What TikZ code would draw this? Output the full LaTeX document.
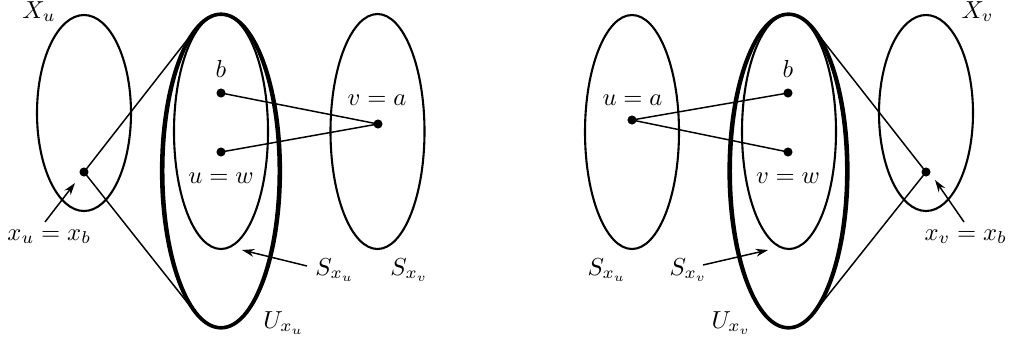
\documentclass[tikz,border=0pt]{standalone}
\usetikzlibrary{shapes.geometric,arrows.meta}
\begin{document}
\begin{tikzpicture}[x=0.4065pt,y=-0.4065pt,
 ell/.style 2 args={ellipse, draw, line width=0.85pt, inner sep=0pt, outer sep=0pt,
   minimum width=#1*0.4065pt, minimum height=#2*0.4065pt},
 dot/.style={circle, fill, inner sep=0pt, minimum size=3.7pt},
 lbl/.style={inner sep=0pt, anchor=base},
 lblw/.style={inner sep=0pt, anchor=base west},
 conn/.style={line width=0.6pt},
 pointer/.style={line width=0.6pt, -{Stealth[length=5pt,width=3.2pt]}}]
\useasboundingbox (0,0) rectangle (1009,343);

% ---------- left panel ----------
\node[ell={94}{196}] (Xu) at (84,113) {};
\node[ell={94}{235}] (Sxu) at (221,131.5) {};
\node[ell={115}{312}, line width=0.8pt] (Uxub) at (221,171) {};
\node[ell={119}{314}, line width=1.3pt] (Uxu) at (221,171) {};
\node[ell={94}{235}] (Sxv) at (377.5,131.5) {};

\node[dot] (xu) at (84,172) {};
\node[dot] (b1) at (221,93) {};
\node[dot] (w1) at (221,152) {};
\node[dot] (a1) at (378,124) {};

\draw[conn] (b1.center) -- (a1.center);
\draw[conn] (w1.center) -- (a1.center);
\draw[conn] (xu.center) -- (Uxu.100.4);
\draw[conn] (xu.center) -- (Uxu.-100.4);

\node[lblw] (LXu) at (22,18) {$X_u$};
\node[lblw] (Lxu) at (7,240) {$x_u=x_b$};
\node[lbl] (Lb1) at (221,77) {$b$};
\node[lbl] (Lw1) at (221,183) {$u=w$};
\node[lbl] (La1) at (377,105) {$v=a$};
\node[lblw] (LSxu) at (315,275) {$S_{x_u}$};
\node[lblw] (LSxv) at (390,275) {$S_{x_v}$};
\node[lblw] (LUxu) at (263,328) {$U_{x_u}$};

\coordinate (p1s) at (45,222);
\coordinate (p1e) at (75,183);
\draw[pointer] (p1s) -- (p1e);
\coordinate (p2s) at (307,266);
\coordinate (p2e) at (242,250);
\draw[pointer] (p2s) -- (p2e);

% ---------- right panel ----------
\node[ell={94}{234}] (Sxu2) at (632,132) {};
\node[ell={94}{235}] (Sxv2) at (789,131.5) {};
\node[ell={115}{312}, line width=0.8pt] (Uxvb) at (788.5,171) {};
\node[ell={119}{314}, line width=1.3pt] (Uxv) at (788.5,171) {};
\node[ell={94}{196}] (Xv) at (926,113) {};

\node[dot] (a2) at (632,120) {};
\node[dot] (b2) at (788,93) {};
\node[dot] (w2) at (788,152) {};
\node[dot] (xv) at (926,172) {};

\draw[conn] (a2.center) -- (b2.center);
\draw[conn] (a2.center) -- (w2.center);
\draw[conn] (xv.center) -- (Uxv.79.6);
\draw[conn] (xv.center) -- (Uxv.-79.6);

\node[lblw] (LXv) at (961,18) {$X_v$};
\node[lblw] (Lxv) at (924,240) {$x_v=x_b$};
\node[lbl] (Lb2) at (788,77) {$b$};
\node[lbl] (Lw2) at (788,183) {$v=w$};
\node[lbl] (La2) at (632.5,105) {$u=a$};
\node[lblw] (LSxu2) at (587,275) {$S_{x_u}$};
\node[lblw] (LSxv2) at (669,275) {$S_{x_v}$};
\node[lblw] (LUxv) at (711,328) {$U_{x_v}$};

\coordinate (p3s) at (964,222);
\coordinate (p3e) at (935,180);
\draw[pointer] (p3s) -- (p3e);
\coordinate (p4s) at (703,265);
\coordinate (p4e) at (768,250);
\draw[pointer] (p4s) -- (p4e);
\end{tikzpicture}
\end{document}
